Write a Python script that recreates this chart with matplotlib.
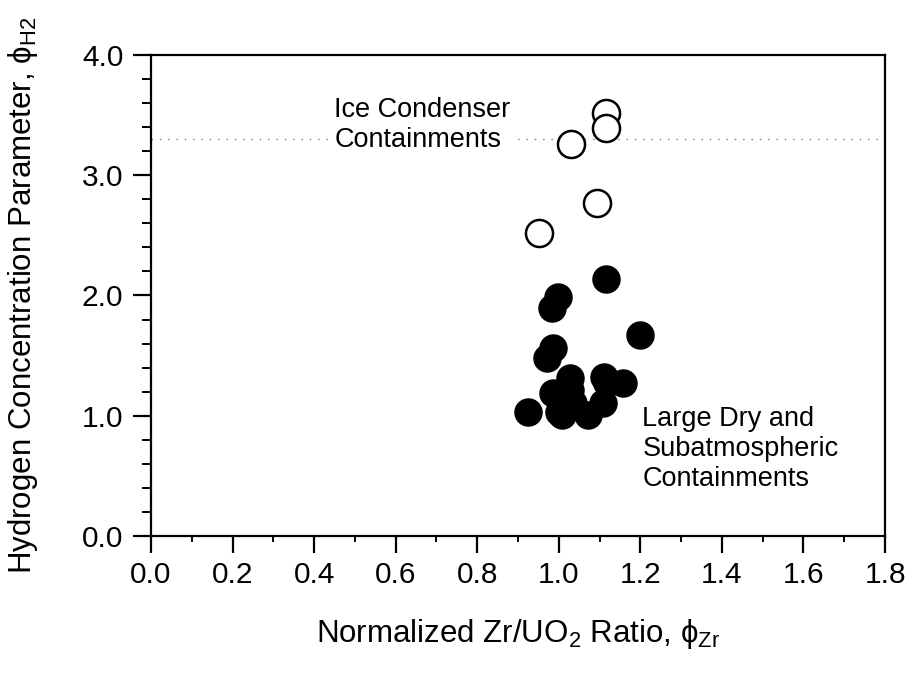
import numpy as np
import matplotlib
matplotlib.use("Agg")
import matplotlib.pyplot as plt
from matplotlib.ticker import MultipleLocator

plt.rcParams['font.family'] = ['Liberation Sans', 'DejaVu Sans']
plt.rcParams['mathtext.fontset'] = 'custom'
plt.rcParams['mathtext.rm'] = 'Liberation Sans'
plt.rcParams['mathtext.it'] = 'Liberation Sans'

# ice condenser plants (open circles)
ice_zr = [1.116, 1.116, 1.030, 1.093, 0.951]
ice_h2 = [3.52, 3.39, 3.26, 2.77, 2.52]

# large dry / subatmospheric plants (filled circles)
dry_zr = [1.116, 0.998, 0.983, 1.199, 0.986, 0.971, 0.924, 1.027, 0.986,
          1.118, 1.157, 1.108, 1.008, 1.072, 1.035, 1.027, 1.000, 1.110]
dry_h2 = [2.14, 1.99, 1.90, 1.67, 1.56, 1.48, 1.03, 1.31, 1.19,
          1.27, 1.27, 1.11, 1.01, 1.01, 1.11, 1.21, 1.03, 1.32]

ice_line = 3.3   # ice condenser limit

fig = plt.figure(figsize=(9.11, 6.73), dpi=100)
ax = fig.add_axes([0.1658, 0.2036, 0.8057, 0.7147])

ax.axhline(ice_line, color='#7a7a7a', lw=1.0, ls=(0, (1, 5)), zorder=1)

ax.scatter(ice_zr, ice_h2, s=380, facecolor='white', edgecolor='black',
           linewidth=1.8, zorder=3)
ax.scatter(dry_zr, dry_h2, s=380, facecolor='black', edgecolor='black',
           linewidth=1.0, zorder=3)

ax.text(0.449, 3.65, 'Ice Condenser\nContainments', fontsize=19.5,
        va='top', ha='left', linespacing=1.2, zorder=2,
        bbox=dict(facecolor='white', edgecolor='none', pad=2))
ax.text(1.205, 1.08, 'Large Dry and\nSubatmospheric\nContainments',
        fontsize=19.5, va='top', ha='left', linespacing=1.2, zorder=2)

ax.set_xlim(0, 1.8)
ax.set_ylim(0, 4.0)
ax.xaxis.set_major_locator(MultipleLocator(0.2))
ax.xaxis.set_minor_locator(MultipleLocator(0.1))
ax.yaxis.set_major_locator(MultipleLocator(1.0))
ax.yaxis.set_minor_locator(MultipleLocator(0.2))
ax.xaxis.set_major_formatter(plt.FormatStrFormatter('%.1f'))
ax.yaxis.set_major_formatter(plt.FormatStrFormatter('%.1f'))

ax.tick_params(axis='x', which='major', direction='out', length=12, width=1.6,
               labelsize=21.5, pad=6)
ax.tick_params(axis='x', which='minor', direction='out', length=4.5, width=1.4)
ax.tick_params(axis='y', which='major', direction='out', length=13, width=1.6,
               labelsize=21.5, pad=7)
ax.tick_params(axis='y', which='minor', direction='out', length=6.5, width=1.4)

for sp in ax.spines.values():
    sp.set_linewidth(1.6)

ax.set_xlabel('Normalized Zr/UO$_2$ Ratio, ϕ$_{\\mathrm{Zr}}$', fontsize=22.5,
              labelpad=20)
ax.set_ylabel('Hydrogen Concentration Parameter, ϕ$_{\\mathrm{H2}}$',
              fontsize=22.5, labelpad=30)

fig.savefig('out.png', dpi=100)
